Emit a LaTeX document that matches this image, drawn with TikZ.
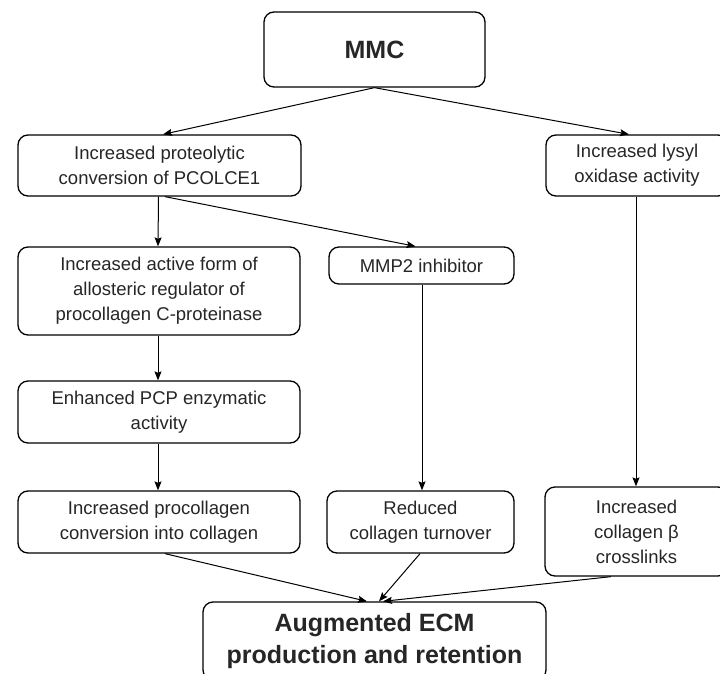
\documentclass[tikz,border=0pt]{standalone}
\usepackage{fontspec}
\setmainfont{Liberation Sans}
\usetikzlibrary{arrows.meta}
\begin{document}
\begin{tikzpicture}[x=1pt,y=-1pt,
  box/.style={draw=black,line width=1.3pt,rounded corners=10pt,fill=white,align=center,
    font=\fontsize{18.5}{25}\selectfont,text=black!85,inner sep=0pt},
  bigbox/.style={box,font=\fontsize{25}{32}\selectfont\bfseries},
  arr/.style={line width=1pt,-{Stealth[length=9pt,width=7pt,inset=1.5pt]}}]
\useasboundingbox (0,0) rectangle (720,674);
\node[bigbox,minimum width=221pt,minimum height=75pt] (mmc) at (374.5,49.5) {MMC};
\node[box,minimum width=283pt,minimum height=61pt] (prot) at (159.5,165.5) {Increased proteolytic\\conversion of PCOLCE1};
\node[box,minimum width=182pt,minimum height=61pt] (lys) at (637,165.5) {Increased lysyl\\oxidase activity};
\node[box,minimum width=282pt,minimum height=88pt] (act) at (159,291) {Increased active form of\\allosteric regulator of\\procollagen C-proteinase};
\node[box,minimum width=185pt,minimum height=37pt] (mmp) at (421.5,265.5) {MMP2 inhibitor};
\node[box,minimum width=282pt,minimum height=62pt] (enh) at (159,412) {Enhanced PCP enzymatic\\activity};
\node[box,minimum width=282pt,minimum height=62pt] (proc) at (159,522) {Increased procollagen\\conversion into collagen};
\node[box,minimum width=187pt,minimum height=62pt] (red) at (420.5,522) {Reduced\\collagen turnover};
\node[box,minimum width=183pt,minimum height=89pt] (cross) at (636.5,531.5) {Increased\\collagen β\\crosslinks};
\node[bigbox,minimum width=343pt,minimum height=78pt] (fin) at (374.5,641) {Augmented ECM\\production and retention};
\draw[arr] (mmc.south) -- ([xshift=3.5pt]prot.north);
\draw[arr] (mmc.south) -- ([xshift=-8pt]lys.north);
\draw[arr] ([xshift=-1pt]prot.south) -- ([xshift=-1pt]act.north);
\draw[arr] ([xshift=5.5pt]prot.south) -- ([xshift=-6pt]mmp.north);
\draw[arr] ([xshift=-1pt]act.south) -- ([xshift=-1pt]enh.north);
\draw[arr] ([xshift=-1pt]enh.south) -- ([xshift=-1pt]proc.north);
\draw[arr] ([xshift=0.5pt]mmp.south) -- ([xshift=1.5pt]red.north);
\draw[arr] ([xshift=-1pt]lys.south) -- ([xshift=-0.5pt]cross.north);
\draw[arr] ([xshift=6pt]proc.south) -- ([xshift=-7.5pt]fin.north);
\draw[arr] ([xshift=-0.5pt]red.south) -- ([xshift=4.5pt]fin.north);
\draw[arr] ([xshift=-25.5pt]cross.south) -- ([xshift=8.5pt]fin.north);
\end{tikzpicture}
\end{document}
